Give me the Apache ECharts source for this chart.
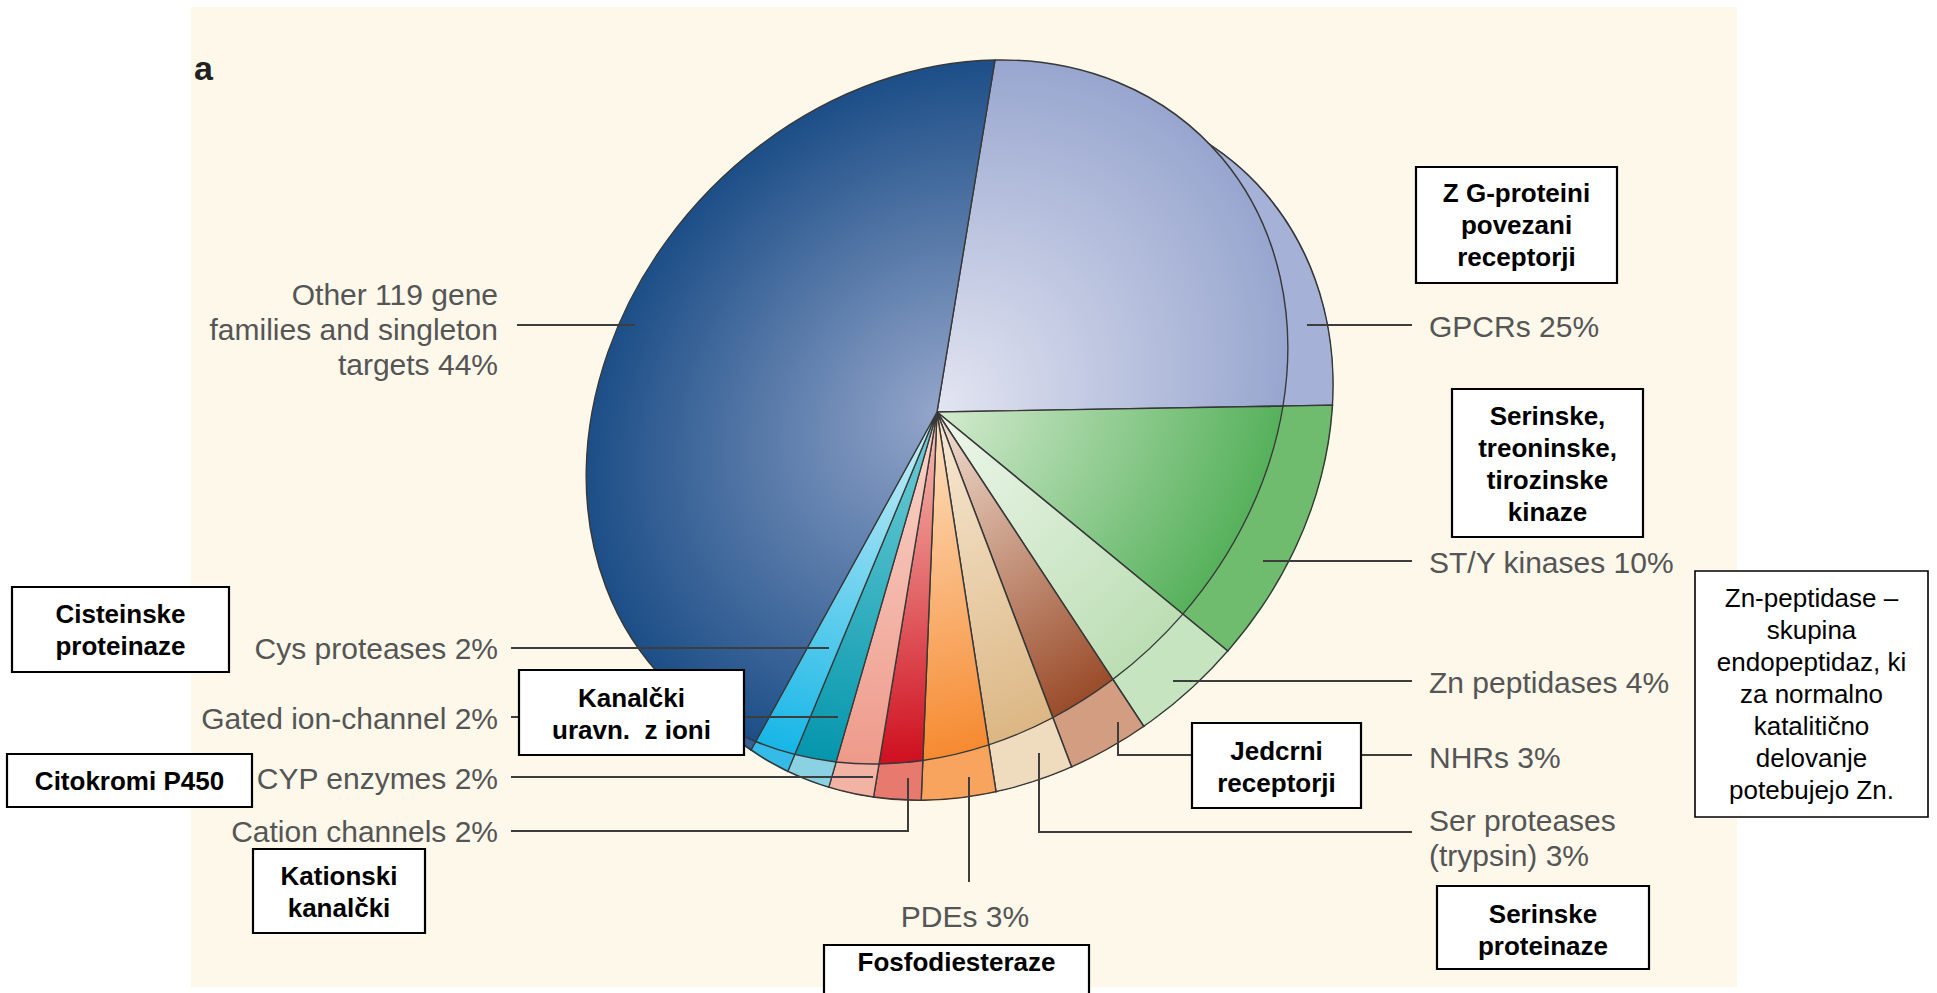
<!DOCTYPE html>
<html><head><meta charset="utf-8">
<script src="https://cdn.jsdelivr.net/npm/echarts@6/dist/echarts.min.js"></script>
<style>
html,body{margin:0;padding:0;background:#fff;width:1937px;height:993px;overflow:hidden;}
#cream{position:absolute;left:191px;top:7px;width:1546px;height:980px;background:#fdf8ea;}
.pie{position:absolute;width:900px;height:900px;transform-origin:450px 450px;}
#overlay{position:absolute;left:0;top:0;width:1937px;height:993px;}
</style></head><body>
<div id="cream"></div>
<div id="side" class="pie"></div>
<div id="top" class="pie"></div>
<div id="overlay"></div>
<script>
// ---- data ----
const categories = ['GPCRs', 'ST/Y kinases', 'Zn peptidases', 'NHRs', 'Ser proteases (trypsin)', 'PDEs',
  'Cation channels', 'CYP enzymes', 'Gated ion-channel', 'Cys proteases', 'Other 119 gene families and singleton targets'];
const shares = [25, 10, 4, 3, 3, 3, 2, 2, 2, 2, 44];
const labelNames = ['GPCRs', 'ST/Y kinases', 'Zn peptidases', 'NHRs', 'Ser proteases\n(trypsin)', 'PDEs',
  'Cation channels', 'CYP enzymes', 'Gated ion-channel', 'Cys proteases', 'Other 119 gene\nfamilies and singleton\ntargets'];
const notes = ['Z G-proteini\npovezani\nreceptorji', 'Serinske,\ntreoninske,\ntirozinske\nkinaze',
  'Zn-peptidase –\nskupina\nendopeptidaz, ki\nza normalno\nkatalitično\ndelovanje\npotebujejo Zn.',
  'Jedcrni\nreceptorji', 'Serinske\nproteinaze', 'Fosfodiesteraze', 'Kationski\nkanalčki',
  'Citokromi P450', 'Cisteinske\nproteinaze', 'Kanalčki\nuravn.  z ioni'];
const panelLetter = 'a';

// ---- styles ----
const topInner = ['#e3e5f1', '#d4ebcf', '#eef7ec', '#f3e2d6', '#f8ead6', '#fde3c6', '#f7c3b6', '#f9d6cc', '#71cfd6', '#d0f0f8', '#93a5ca'];
const topOuter = ['#98a6cf', '#56b15b', '#bcdeb4', '#9a4c2a', '#dcb784', '#f68a30', '#cf0f1f', '#ee9a8a', '#0596ad', '#16b6e6', '#1c4e87'];
const sideColors = ['#a6b1d7', '#6fbc6f', '#c5e4bf', '#d29d80', '#efdcbf', '#f8a45e', '#e7796f', '#f2b3a5', '#8ad1e1', '#35bbe8', '#33609a'];

// ---- geometry of the tilted disc (layout) ----
const C0 = 450, R0 = 350;                 // pie centre & radius inside each 900px layer
const pieCenter = [937, 412];             // where the sectors meet on the page
const axisRight = [346, -6], axisDown = [-58, 352];
const sideShift = [46, 37];               // thickness of the disc on the page
const a = axisRight[0] / R0, b = axisRight[1] / R0, c = axisDown[0] / R0, d = axisDown[1] / R0;
const det = a * d - b * c;
const sx = (d * sideShift[0] - c * sideShift[1]) / det;
const sy = (-b * sideShift[0] + a * sideShift[1]) / det;
['side', 'top'].forEach(id => {
  const el = document.getElementById(id);
  el.style.left = (pieCenter[0] - C0) + 'px';
  el.style.top = (pieCenter[1] - C0) + 'px';
  el.style.transform = `matrix(${a},${b},${c},${d},0,0)`;
});
document.getElementById('side').style.clipPath = `circle(${R0}px at ${C0 + sx}px ${C0 + sy}px)`;

function pieSeries(radius, colorFn) {
  return {
    type: 'pie', center: [C0, C0], radius: radius, startAngle: 90, clockwise: true,
    silent: true, animation: false, label: { show: false }, labelLine: { show: false },
    emphasis: { disabled: true },
    data: categories.map((n, i) => ({
      name: n, value: shares[i],
      itemStyle: { color: colorFn(i), borderColor: '#383838', borderWidth: 1.4 }
    }))
  };
}

const sideChart = echarts.init(document.getElementById('side'), null, { renderer: 'svg' });
sideChart.setOption({
  animation: false,
  series: [pieSeries(R0 + 80, i => sideColors[i])],
  graphic: [{ type: 'circle', shape: { cx: C0 + sx, cy: C0 + sy, r: R0 - 0.8 },
    style: { fill: 'none', stroke: '#383838', lineWidth: 1.6 }, z: 10 }]
});

const topChart = echarts.init(document.getElementById('top'), null, { renderer: 'svg' });
topChart.setOption({
  animation: false,
  series: [pieSeries(R0, i => ({
    type: 'radial', x: C0, y: C0, r: R0, global: true,
    colorStops: [{ offset: 0, color: topInner[i] }, { offset: 1, color: topOuter[i] }]
  }))]
});

// ---- labels, leader lines, annotation boxes (layout) ----
const labelLayout = [
  { x: 1429, y: 326, align: 'left' }, { x: 1429, y: 562, align: 'left' }, { x: 1429, y: 682, align: 'left' },
  { x: 1429, y: 757, align: 'left' }, { x: 1429, y: 838, align: 'left' }, { x: 965, y: 916, align: 'center' },
  { x: 498, y: 831, align: 'right' }, { x: 498, y: 778, align: 'right' }, { x: 498, y: 718, align: 'right' },
  { x: 498, y: 648, align: 'right' }, { x: 498, y: 329, align: 'right' }
];
const leaders = [
  [[1307, 325], [1412, 325]], [[1263, 561], [1412, 561]], [[1173, 681], [1412, 681]],
  [[1118, 722], [1118, 755], [1412, 755]], [[1039, 753], [1039, 832], [1412, 832]],
  [[969, 777], [969, 882]], [[908, 778], [908, 831], [511, 831]], [[873, 777], [511, 777]],
  [[838, 717], [511, 717]], [[829, 648], [511, 648]], [[635, 325], [517, 325]]
];
const boxLayout = [
  { x: 1416, y: 167, w: 201, h: 116, bold: true }, { x: 1452, y: 389, w: 191, h: 148, bold: true },
  { x: 1695, y: 571, w: 233, h: 246, bold: false }, { x: 1192, y: 723, w: 169, h: 85, bold: true },
  { x: 1437, y: 886, w: 212, h: 83, bold: true }, { x: 824, y: 945, w: 265, h: 64, bold: true },
  { x: 253, y: 849, w: 172, h: 84, bold: true }, { x: 7, y: 754, w: 245, h: 53, bold: true },
  { x: 12, y: 587, w: 217, h: 85, bold: true }, { x: 519, y: 670, w: 225, h: 85, bold: true }
];
const boxTextY = [225, 464, 694, 767, 930, 962, 892, 781, 630, 714];

const g = [];
g.push({ type: 'text', x: 194, y: 68, z: 5, style: { text: panelLetter, fill: '#222', fontSize: 34, fontWeight: 'bold',
  fontFamily: 'Liberation Sans, Arial, sans-serif', align: 'left', verticalAlign: 'middle' } });
leaders.forEach(p => g.push({ type: 'polyline', z: 1, shape: { points: p },
  style: { stroke: '#3d3d3d', lineWidth: 2, fill: null } }));
labelNames.forEach((n, i) => {
  const L = labelLayout[i];
  g.push({ type: 'text', x: L.x, y: L.y, z: 2, style: {
    text: n + ' ' + shares[i] + '%', fill: '#555', fontSize: 30, lineHeight: 35,
    fontFamily: 'Liberation Sans, Arial, sans-serif', align: L.align, verticalAlign: 'middle' } });
});
notes.forEach((t, i) => {
  const B = boxLayout[i];
  g.push({ type: 'rect', z: 3, shape: { x: B.x, y: B.y, width: B.w, height: B.h },
    style: { fill: '#fff', stroke: '#000', lineWidth: B.bold ? 2.2 : 1.6 } });
  g.push({ type: 'text', x: B.x + B.w / 2, y: boxTextY[i], z: 4, style: {
    text: t, fill: '#000', fontSize: 26, lineHeight: 32, fontWeight: B.bold ? 'bold' : 'normal',
    fontFamily: 'Liberation Sans, Arial, sans-serif', align: 'center', verticalAlign: 'middle' } });
});

const overlay = echarts.init(document.getElementById('overlay'), null, { renderer: 'svg' });
overlay.setOption({ animation: false, graphic: g });
</script>
</body></html>
